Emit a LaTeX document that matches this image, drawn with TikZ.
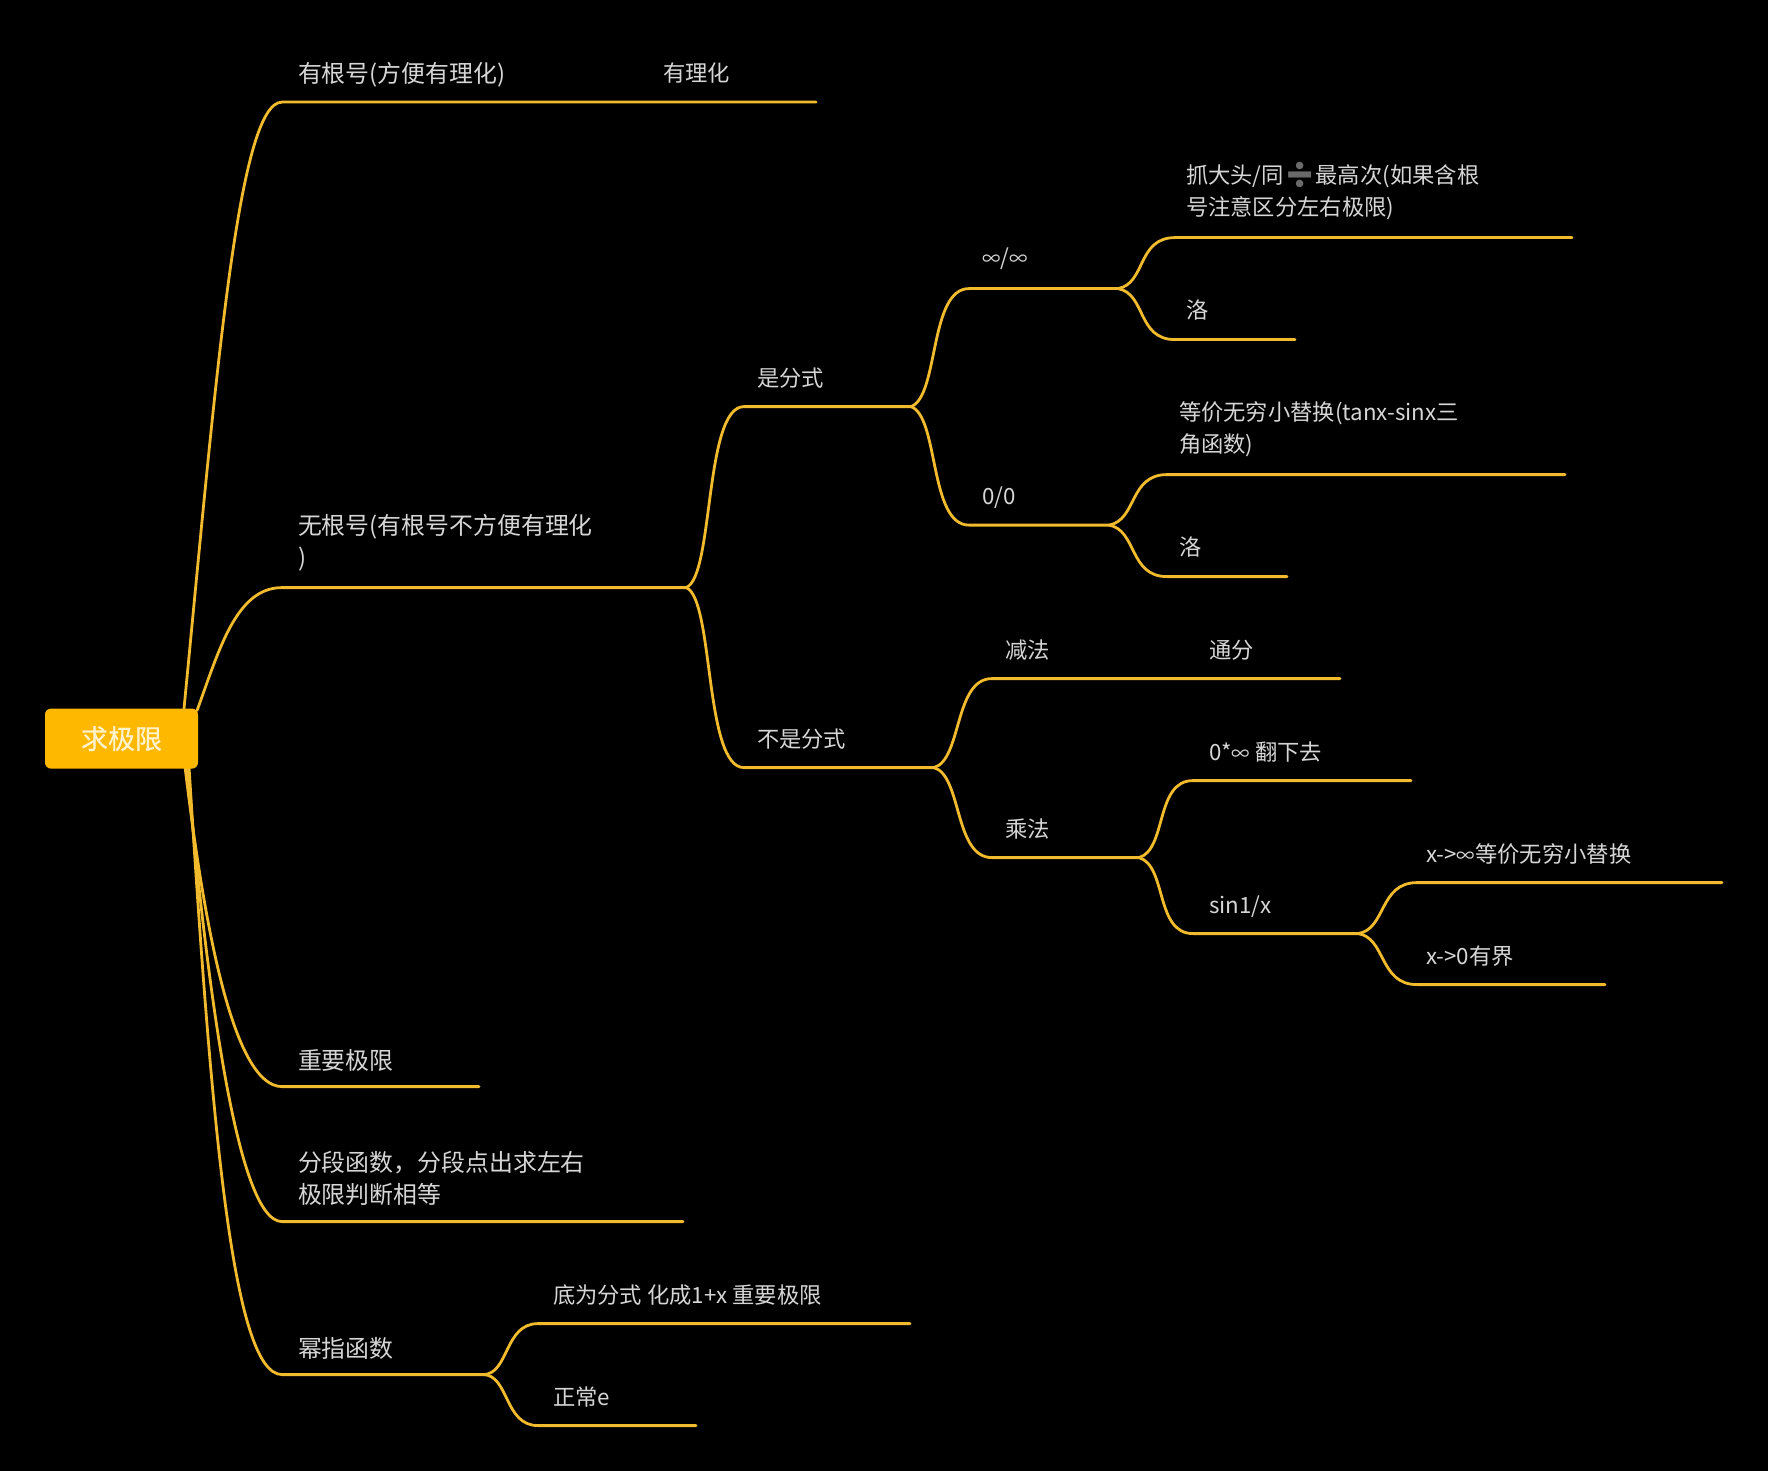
\documentclass[tikz,border=0pt]{standalone}
\usepackage{fontspec}
\setmainfont{Noto Sans CJK SC}
\newfontfamily\emojifont{Noto Emoji}
\newfontfamily\rootfont[FakeBold=0.5]{Noto Sans CJK SC}
\newcommand{\inft}{{\fontsize{9.2}{9.2}\selectfont ∞}}
\definecolor{linecol}{HTML}{F2BB2E}
\definecolor{boxcol}{HTML}{FFB800}
\definecolor{txtcol}{HTML}{D6D6D6}
\definecolor{roottxt}{HTML}{FFF2CC}
\definecolor{emojicol}{HTML}{6A6A6A}
\tikzset{
  br/.style={draw=linecol,line width=1.4pt,line cap=round,line join=round},
  lab/.style={text=txtcol,inner sep=0pt,outer sep=0pt,anchor=west,align=left,yshift=-0.8pt,font=\fontsize{11.95}{16}\selectfont},
  sublab/.style={lab,yshift=0.9pt,font=\fontsize{11.15}{16}\selectfont},
  rootbox/.style={fill=boxcol,rounded corners=3pt,minimum width=76.5pt,minimum height=30pt,inner sep=0pt,text=roottxt},
}
% from, to, end of the line, first control offset x,y, second control offset x
\newcommand{\fork}[6]{\draw[br] (#1) .. controls +(#4,#5) and +(#6,0) .. (#2) -- (#3);}
\begin{document}
\begin{tikzpicture}[x=0.5pt,y=-0.5pt]
\fill[black] (0,0) rectangle (1768,1471);
\useasboundingbox (0,0) rectangle (1768,1471);
\begin{scope}[yshift=-0.3pt]
% junctions and line ends
\coordinate (rA) at (184,708); \coordinate (rB) at (197,710);
\coordinate (rC) at (185,766); \coordinate (rD) at (187,766); \coordinate (rE) at (189,766);
\coordinate (a0) at (282,101.5); \coordinate (a1) at (816,101.5);
\coordinate (b0) at (282,587); \coordinate (b1) at (686,587);
\coordinate (c0) at (282,1086); \coordinate (c1) at (479,1086);
\coordinate (d0) at (282,1221); \coordinate (d1) at (683,1221);
\coordinate (e0) at (282,1374); \coordinate (e1) at (483,1374);
\coordinate (e2) at (538,1323); \coordinate (e3) at (910,1323);
\coordinate (e4) at (538,1425); \coordinate (e5) at (696,1425);
\coordinate (f0) at (744,406); \coordinate (f1) at (911,406);
\coordinate (g0) at (744,767); \coordinate (g1) at (934,767);
\coordinate (h0) at (969,288); \coordinate (h1) at (1118,288);
\coordinate (i0) at (969,524.5); \coordinate (i1) at (1109,524.5);
\coordinate (j0) at (1175,237); \coordinate (j1) at (1572,237);
\coordinate (k0) at (1175,339); \coordinate (k1) at (1295,339);
\coordinate (l0) at (1167,474); \coordinate (l1) at (1565,474);
\coordinate (m0) at (1167,576); \coordinate (m1) at (1287,576);
\coordinate (n0) at (992,678); \coordinate (n1) at (1340,678);
\coordinate (o0) at (992,857); \coordinate (o1) at (1139,857);
\coordinate (p0) at (1193,780); \coordinate (p1) at (1411,780);
\coordinate (q0) at (1193,933); \coordinate (q1) at (1358,933);
\coordinate (s0) at (1417,882); \coordinate (s1) at (1722,882);
\coordinate (t0) at (1417,984); \coordinate (t1) at (1605,984);

% connectors
\fork{rA}{a0}{a1}{32}{-330}{-44}
\fork{rB}{b0}{b1}{22}{-60}{-46}
\fork{rC}{c0}{c1}{18}{150}{-50}
\fork{rD}{d0}{d1}{20}{220}{-45}
\fork{rE}{e0}{e1}{22}{350}{-50}
\fork{e1}{e2}{e3}{26}{0}{-34}
\fork{e1}{e4}{e5}{26}{0}{-34}
\fork{b1}{f0}{f1}{28}{-10}{-40}
\fork{b1}{g0}{g1}{28}{10}{-40}
\fork{f1}{h0}{h1}{28}{-10}{-40}
\fork{f1}{i0}{i1}{28}{10}{-40}
\fork{h1}{j0}{j1}{28}{-5}{-38}
\fork{h1}{k0}{k1}{28}{5}{-38}
\fork{i1}{l0}{l1}{28}{-5}{-38}
\fork{i1}{m0}{m1}{28}{5}{-38}
\fork{g1}{n0}{n1}{28}{-8}{-38}
\fork{g1}{o0}{o1}{28}{8}{-38}
\fork{o1}{p0}{p1}{28}{-8}{-38}
\fork{o1}{q0}{q1}{28}{8}{-38}
\fork{q1}{s0}{s1}{28}{-4}{-38}
\fork{q1}{t0}{t1}{28}{4}{-38}

% root
\node[rootbox] (root) at (121.5,738) {\raisebox{-1.5pt}{\rootfont\fontsize{13.5}{16}\selectfont 求极限}};

% labels
\node[lab] (la) at (298,73) {有根号(方便有理化)};
\node[sublab] (la2) at (663,73) {有理化};
\node[lab] (lb) at (298,541) {无根号(有根号不方便有理化\\)};
\node[lab] (lc) at (298,1058) {重要极限};
\node[lab] (ld) at (298,1176) {分段函数，分段点出求左右\\极限判断相等};
\node[lab] (le) at (298,1346) {幂指函数};
\node[sublab] (le2) at (553,1295) {底为分式 化成1+x 重要极限};
\node[sublab] (le4) at (553,1397) {正常e};
\node[sublab] (lf) at (757,378) {是分式};
\node[sublab] (lg) at (757,739) {不是分式};
\node[sublab] (lh) at (982,258) {\inft/\inft};
\node[sublab] (li) at (982,497) {0/0};
\node[sublab] (lj) at (1186,191) {抓大头/同{\emojifont\fontsize{12.5}{16}\selectfont\color{emojicol}➗}最高次(如果含根\\号注意区分左右极限)};
\node[sublab] (lk) at (1186,310) {洛};
\node[sublab] (ll) at (1179,429) {等价无穷小替换(tanx-sinx三\\角函数)};
\node[sublab] (lm) at (1179,547) {洛};
\node[sublab] (ln) at (1005,650) {减法};
\node[sublab] (ln2) at (1209,650) {通分};
\node[sublab] (lo) at (1005,829) {乘法};
\node[sublab] (lp) at (1209,752) {0*\inft{} 翻下去};
\node[sublab] (lq) at (1209,906) {sin1/x};
\node[sublab] (ls) at (1426,854) {x->\inft{}等价无穷小替换};
\node[sublab] (lt) at (1426,956) {x->0有界};
\end{scope}
\end{tikzpicture}
\end{document}
